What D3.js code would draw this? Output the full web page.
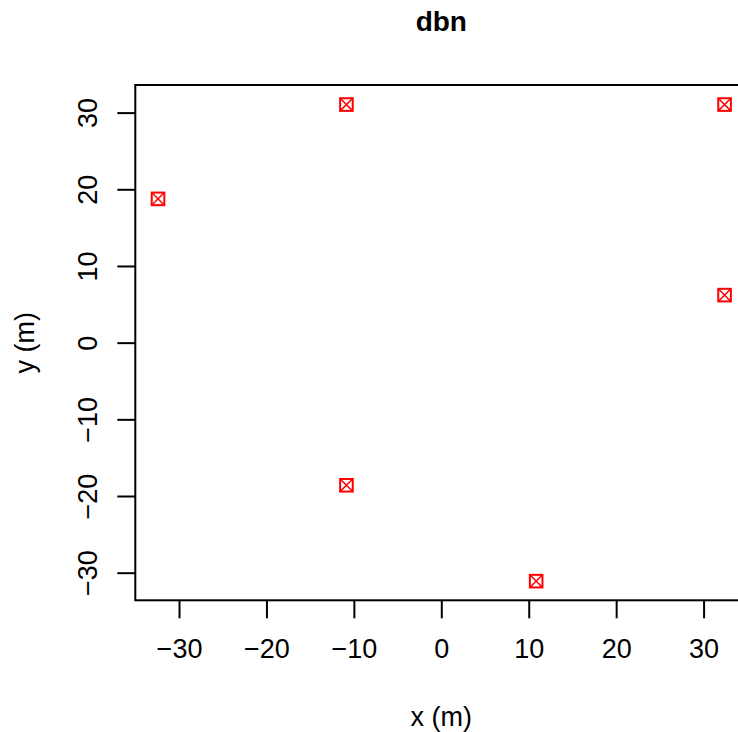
<!DOCTYPE html>
<html>
<head>
<meta charset="utf-8">
<script src="https://cdn.jsdelivr.net/npm/d3@7"></script>
<style>
  body { margin: 0; background: #fff; }
  text { font-family: "Liberation Sans", Arial, Helvetica, sans-serif; fill: #000; }
</style>
</head>
<body>
<div id="wrapper"></div>
<script>
// sensor positions (m)
const xs = [-32.4, -10.85, 32.4, 32.4, -10.85, 10.85];
const ys = [18.75, 31.05, 31.05, 6.2, -18.6, -31.1];
const xTicks = [-30, -20, -10, 0, 10, 20, 30];
const yTicks = [-30, -20, -10, 0, 10, 20, 30];
const title = "dbn";

const dimension = {
    width: 738,
    height: 732,
    margin: { top: 85, left: 135.3, bottom: 131.7, right: -9.3 }
};
dimension.boundedWidth = dimension.width - dimension.margin.left - dimension.margin.right;
dimension.boundedHeight = dimension.height - dimension.margin.top - dimension.margin.bottom;

const svg = d3.select("#wrapper").append("svg")
    .attr("width", dimension.width)
    .attr("height", dimension.height);

const bounded = svg.append("g")
    .attr("transform", `translate(${dimension.margin.left},${dimension.margin.top})`);

const xScaler = d3.scaleLinear().domain([-35, 35]).range([0, dimension.boundedWidth]);
const yScaler = d3.scaleLinear().domain([-33.6, 33.6]).range([dimension.boundedHeight, 0]);

const minusFmt = d => d < 0 ? "\u2212" + Math.abs(d) : d;

// x axis
const xAxis = bounded.append("g")
    .attr("transform", `translate(0,${dimension.boundedHeight})`)
    .call(d3.axisBottom(xScaler).tickValues(xTicks).tickSize(18).tickPadding(21)
        .tickFormat(minusFmt));
xAxis.select(".domain").remove();
xAxis.selectAll("line").attr("stroke", "#000").attr("stroke-width", 2);
xAxis.selectAll("text").style("font-size", "27px").attr("fill", "#000");

// y axis, labels rotated like R
const yAxis = bounded.append("g")
    .call(d3.axisLeft(yScaler).tickValues(yTicks).tickSize(18).tickPadding(0)
        .tickFormat(minusFmt));
yAxis.select(".domain").remove();
yAxis.selectAll("line").attr("stroke", "#000").attr("stroke-width", 2);
yAxis.selectAll("text")
    .style("font-size", "27px")
    .attr("fill", "#000")
    .attr("x", null).attr("dy", null)
    .attr("text-anchor", "middle")
    .attr("transform", "translate(-38,0) rotate(-90)");

// box
bounded.append("rect")
    .attr("x", 0).attr("y", 0)
    .attr("width", dimension.boundedWidth)
    .attr("height", dimension.boundedHeight)
    .attr("fill", "none")
    .attr("stroke", "#000")
    .attr("stroke-width", 2);

// points, pch 7 (square with cross)
const s = 6.3;
const pts = bounded.selectAll("g.pt")
    .data(xs.map((x, i) => ({ x: x, y: ys[i] })))
    .join("g")
    .attr("class", "pt")
    .attr("transform", d => `translate(${xScaler(d.x)},${yScaler(d.y)})`);
pts.append("rect")
    .attr("x", -s).attr("y", -s).attr("width", 2 * s).attr("height", 2 * s)
    .attr("fill", "none").attr("stroke", "red").attr("stroke-width", 2);
pts.append("path")
    .attr("d", `M${-s},${-s}L${s},${s}M${-s},${s}L${s},${-s}`)
    .attr("stroke", "red").attr("stroke-width", 1.5);

// title and axis titles
svg.append("text")
    .attr("x", dimension.margin.left + xScaler(0))
    .attr("y", 31)
    .attr("text-anchor", "middle")
    .style("font-size", "28px")
    .style("font-weight", "bold")
    .text(title);

svg.append("text")
    .attr("x", dimension.margin.left + xScaler(0))
    .attr("y", 726)
    .attr("text-anchor", "middle")
    .style("font-size", "27px")
    .text("x (m)");

svg.append("text")
    .attr("transform", `translate(34,${dimension.margin.top + dimension.boundedHeight / 2}) rotate(-90)`)
    .attr("text-anchor", "middle")
    .style("font-size", "27px")
    .text("y (m)");
</script>
</body>
</html>
